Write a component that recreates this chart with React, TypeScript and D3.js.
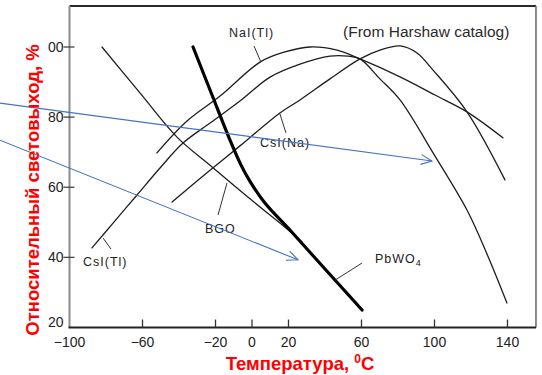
import { useRef, useEffect } from 'react';
import * as d3 from 'd3';

const WIDTH = 542;
const HEIGHT = 375;

type Pt = [number, number];

// temperature (deg C) -> relative light output (%)
const naiTl: Pt[] = [
  [-52.1, 69.8], [-35.6, 78.9], [-17.5, 86.0], [4.4, 95.7], [18.1, 98.6],
  [31.8, 100.0], [46.6, 99.1], [59.2, 96.6], [81.1, 91.5], [100.3, 86.3],
  [117.8, 81.5], [137.5, 74.1],
];
const csiTl: Pt[] = [
  [-87.7, 42.7], [-75.1, 50.4], [-63.0, 57.8], [-50.4, 65.5], [-37.8, 72.6],
  [-23.0, 78.3], [-6.6, 84.6], [9.9, 91.4], [26.3, 95.1], [42.7, 97.4],
  [52.6, 97.4], [59.2, 96.6], [70.1, 90.9], [81.1, 84.9], [99.2, 69.8],
  [117.8, 53.5], [128.8, 40.9], [139.7, 27.0],
];
const csiNa: Pt[] = [
  [-43.8, 55.8], [-24.7, 64.1], [-6.6, 71.8], [15.3, 81.2], [26.3, 84.9],
  [42.7, 90.9], [59.2, 96.6], [70.1, 99.1], [81.1, 100.3], [90.4, 98.3],
  [99.2, 93.4], [117.8, 81.5], [138.6, 62.1],
];
const bgo: Pt[] = [
  [-82.2, 100.0], [-61.4, 86.9], [-41.1, 74.3], [-21.9, 65.8], [-1.1, 56.7],
  [15.3, 49.8], [27.4, 44.4],
];
const pbwo4: Pt[] = [
  [-32.3, 100.0], [-21.9, 86.3], [-12.1, 73.5], [-6.0, 66.3], [-1.1, 61.7],
  [7.1, 55.5], [20.8, 47.8], [40.5, 36.4], [60.3, 25.0],
];

const xTicks = [-100, -60, -20, 0, 20, 60, 100, 140];
const xTickLabels = ['\u2212100', '\u221260', '\u221220', '0', '20', '60', '100', '140'];
const yTicks = [20, 40, 60, 80, 100];
const yTickLabels = ['20', '40', '60', '80', '00'];

const X_MAX = 155.6;
const Y_MAX = 111.7;

const series = [
  { name: 'NaI(Tl)', points: naiTl, width: 1.3 },
  { name: 'CsI(Tl)', points: csiTl, width: 1.3 },
  { name: 'CsI(Na)', points: csiNa, width: 1.3 },
  { name: 'BGO', points: bgo, width: 1.3 },
  { name: 'PbWO4', points: pbwo4, width: 3.2 },
];

// curve labels: text anchor + leader line (data units)
const curveLabels = [
  { text: 'NaI(Tl)', at: [-12.6, 102.9] as Pt, leader: [[1.1, 100.3], [4.9, 95.7]] as Pt[] },
  { text: 'CsI(Na)', at: [4.4, 71.5] as Pt, leader: [[15.3, 80.9], [18.6, 75.5]] as Pt[] },
  { text: 'CsI(Tl)', at: [-92.6, 37.5] as Pt, leader: [[-81.6, 45.5], [-77.3, 42.4]] as Pt[] },
  { text: 'BGO', at: [-25.8, 47.0] as Pt, leader: [[-18.6, 52.1], [-13.7, 61.2]] as Pt[] },
  { text: 'PbWO', sub: '4', at: [67.4, 38.4] as Pt, leader: [[45.5, 33.5], [60.3, 38.4]] as Pt[] },
];

// blue annotation arrows
const arrows: [Pt, Pt][] = [
  [[-138.1, 84.0], [98.6, 67.5]],
  [[-138.1, 73.4], [25.2, 39.3]],
];

export default function App() {
  const svgRef = useRef<SVGSVGElement>(null);

  useEffect(() => {
    const svg = d3.select(svgRef.current);
    svg.selectAll('*').remove();

    const x = d3.scaleLinear().domain([-100, 140]).range([69.5, 507.5]);
    const y = d3.scaleLinear().domain([20, 100]).range([327.5, 47]);

    svg.append('rect').attr('width', WIDTH).attr('height', HEIGHT).attr('fill', '#fff');

    const x0 = x(-100);
    const x1 = x(X_MAX);
    const y0 = y(20);
    const y1 = y(Y_MAX);

    // frame
    svg.append('line').attr('x1', x0).attr('y1', y1).attr('x2', x1).attr('y2', y1)
      .attr('stroke', '#2a2a2a').attr('stroke-width', 2);
    svg.append('line').attr('x1', x0).attr('y1', y1).attr('x2', x0).attr('y2', y0)
      .attr('stroke', '#8c8c8c').attr('stroke-width', 2);
    svg.append('line').attr('x1', x1).attr('y1', y1).attr('x2', x1).attr('y2', y0)
      .attr('stroke', '#666').attr('stroke-width', 1.5);
    svg.append('line').attr('x1', x0 - 1).attr('y1', y0).attr('x2', x1).attr('y2', y0)
      .attr('stroke', '#222').attr('stroke-width', 2);

    const font = '"Liberation Sans", Arial, sans-serif';

    // x ticks
    xTicks.forEach((t, i) => {
      if (t !== -100) {
        svg.append('line').attr('x1', x(t)).attr('x2', x(t)).attr('y1', y0).attr('y2', y0 - 8)
          .attr('stroke', '#333').attr('stroke-width', 1.3);
      }
      svg.append('text').attr('x', x(t)).attr('y', y0 + 19)
        .attr('text-anchor', 'middle').attr('font-family', font).attr('font-size', 14)
        .attr('fill', '#222').text(xTickLabels[i]);
    });

    // y ticks
    yTicks.forEach((t, i) => {
      if (t !== 20) {
        svg.append('line').attr('x1', x0 - 6).attr('x2', x0 + 5).attr('y1', y(t)).attr('y2', y(t))
          .attr('stroke', '#444').attr('stroke-width', 1.3);
      }
      svg.append('text').attr('x', x0 - 6).attr('y', y(t) + (t === 20 ? -1 : 5))
        .attr('text-anchor', 'end').attr('font-family', font).attr('font-size', 14)
        .attr('fill', '#222').text(yTickLabels[i]);
    });

    // curves
    const line = d3.line<Pt>()
      .x((d) => x(d[0]))
      .y((d) => y(d[1]))
      .curve(d3.curveCatmullRom.alpha(0.5));
    series.forEach((s) => {
      svg.append('path').attr('d', line(s.points))
        .attr('fill', 'none').attr('stroke', s.width > 2 ? '#000' : '#1e1e1e')
        .attr('stroke-width', s.width).attr('stroke-linecap', 'round');
    });

    // labels + leaders
    curveLabels.forEach((l) => {
      svg.append('line')
        .attr('x1', x(l.leader[0][0])).attr('y1', y(l.leader[0][1]))
        .attr('x2', x(l.leader[1][0])).attr('y2', y(l.leader[1][1]))
        .attr('stroke', '#333').attr('stroke-width', 1);
      const t = svg.append('text').attr('x', x(l.at[0])).attr('y', y(l.at[1]))
        .attr('font-family', font).attr('font-size', 12.5).attr('letter-spacing', 1)
        .attr('fill', '#222');
      t.append('tspan').text(l.text);
      if (l.sub) {
        t.append('tspan').attr('dy', 3).attr('font-size', 9).text(l.sub);
      }
    });

    svg.append('text').attr('x', x(49.9)).attr('y', y(102.9))
      .attr('font-family', font).attr('font-size', 15.5).attr('fill', '#2a2a2a')
      .text('(From Harshaw catalog)');

    // blue arrows
    arrows.forEach(([a, b]) => {
      const ax = x(a[0]);
      const ay = y(a[1]);
      const bx = x(b[0]);
      const by = y(b[1]);
      svg.append('line').attr('x1', ax).attr('y1', ay).attr('x2', bx).attr('y2', by)
        .attr('stroke', '#4472c4').attr('stroke-width', 1.1);
      const ang = Math.atan2(by - ay, bx - ax);
      const len = 12;
      const spread = 0.42;
      const head = [ang + Math.PI - spread, ang + Math.PI + spread].map(
        (g) => [bx + len * Math.cos(g), by + len * Math.sin(g)] as Pt,
      );
      svg.append('path')
        .attr('d', `M${head[0][0]},${head[0][1]}L${bx},${by}L${head[1][0]},${head[1][1]}`)
        .attr('fill', 'none').attr('stroke', '#4472c4').attr('stroke-width', 1.1);
    });

    // axis titles
    const xt = svg.append('text').attr('x', 300).attr('y', 370)
      .attr('text-anchor', 'middle').attr('font-family', font).attr('font-weight', 700)
      .attr('font-size', 18.5).attr('fill', '#ff0000');
    xt.append('tspan').text('Температура, ');
    xt.append('tspan').attr('dy', -7).attr('font-size', 12).text('0');
    xt.append('tspan').attr('dy', 7).text('C');

    svg.append('text')
      .attr('transform', 'translate(39,190) rotate(-90)')
      .attr('text-anchor', 'middle').attr('font-family', font).attr('font-weight', 700)
      .attr('font-size', 18.5).attr('fill', '#ff0000')
      .text('Относительный световыход, %');
  }, []);

  return (
    <svg
      ref={svgRef}
      width={WIDTH}
      height={HEIGHT}
      style={{ position: 'absolute', left: 0, top: 0 }}
    />
  );
}
